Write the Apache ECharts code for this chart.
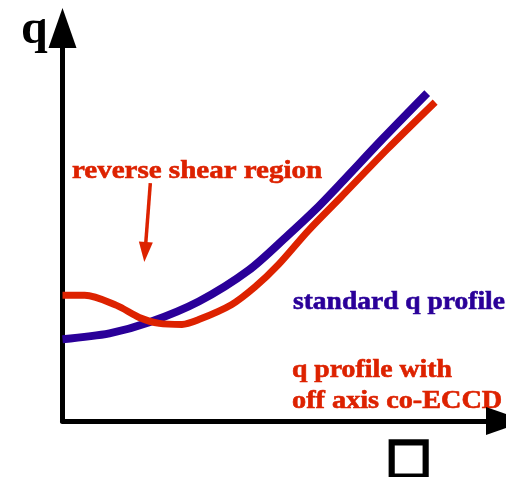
<!DOCTYPE html>
<html>
<head>
<meta charset="utf-8">
<script src="https://cdn.jsdelivr.net/npm/echarts@6/dist/echarts.min.js"></script>
<style>html,body{margin:0;padding:0;background:#fff}#c{width:506px;height:477px}</style>
</head>
<body>
<div id="c"></div>
<script>
// normalized radius (rho) and safety factor q
var rhoStandard = [0, 0.112, 0.207, 0.325, 0.444, 0.538, 0.602, 0.664, 0.763, 0.870];
var qStandard   = [1.04, 1.115, 1.255, 1.52, 1.917, 2.363, 2.682, 3.025, 3.586, 4.172];
var rhoECCD = [0, 0.053, 0.129, 0.183, 0.231, 0.285, 0.325, 0.403, 0.460, 0.515, 0.586, 0.664, 0.775, 0.889];
var qECCD   = [1.60, 1.60, 1.471, 1.318, 1.242, 1.229, 1.290, 1.480, 1.710, 1.990, 2.420, 2.847, 3.459, 4.057];
// annotation arrow (rho, q) start and end
var arrowFrom = [0.2095, 3.025];
var arrowTo   = [0.197, 2.15];
var labels = {
  yName: 'q',
  xName: '\u25A1',
  reverse: 'reverse shear region',
  standard: 'standard q profile',
  eccd1: 'q profile with',
  eccd2: 'off axis co-ECCD'
};

function pairs(xs, ys){ return xs.map(function(x,i){ return [x, ys[i]]; }); }

var BLUE = '#2a0099', RED = '#dd2200';
var chart = echarts.init(document.getElementById('c'), null, {renderer:'canvas'});
var axisCommon = {
  type: 'value',
  axisLine: {show: true, lineStyle: {color: '#000', width: 5}, symbol: ['none','triangle'], symbolSize: [28, 40]},
  axisTick: {show: false}, axisLabel: {show: false}, splitLine: {show: false}
};
var serifBold = 'bold 25px "Liberation Serif", "Times New Roman", serif';
function label(x, y, sx, text, color){
  return {type: 'text', x: x, y: y, scaleX: sx,
    style: {text: text, font: serifBold, fill: color, stroke: color, lineWidth: 0.6, verticalAlign: 'alphabetic'}};
}
chart.setOption({
  animation: false,
  grid: {left: 62.5, right: -2, top: 28, bottom: 56},
  xAxis: Object.assign({}, axisCommon, {min: 0, max: 1.058}),
  yAxis: Object.assign({}, axisCommon, {min: 0, max: 5}),
  series: [
    {type: 'line', data: pairs(rhoStandard, qStandard), smooth: 0.3, showSymbol: false,
     lineStyle: {color: BLUE, width: 8, cap: 'butt'}},
    {type: 'line', data: pairs(rhoECCD, qECCD), smooth: 0.3, showSymbol: false,
     lineStyle: {color: RED, width: 7, cap: 'butt'},
     markLine: {silent: true, symbol: ['none','triangle'], symbolSize: [14, 20], label: {show: false},
       lineStyle: {color: RED, width: 3.5, type: 'solid'},
       data: [[{coord: arrowFrom}, {coord: arrowTo}]]}}
  ],
  graphic: [
    {type: 'text', left: 21, top: 7, style: {text: labels.yName, font: 'bold 48px "Liberation Serif", serif', fill: '#000'}},
    {type: 'text', x: 386, y: 436, style: {text: labels.xName, font: 'bold 48px "DejaVu Sans", sans-serif', fill: '#000', stroke: '#000', lineWidth: 3.5}},
    label(72, 159, 1.16, labels.reverse, RED),
    label(293, 290, 1.1, labels.standard, BLUE),
    label(292, 358, 1.11, labels.eccd1, RED),
    label(292, 389, 1.13, labels.eccd2, RED)
  ]
});
</script>
</body>
</html>
